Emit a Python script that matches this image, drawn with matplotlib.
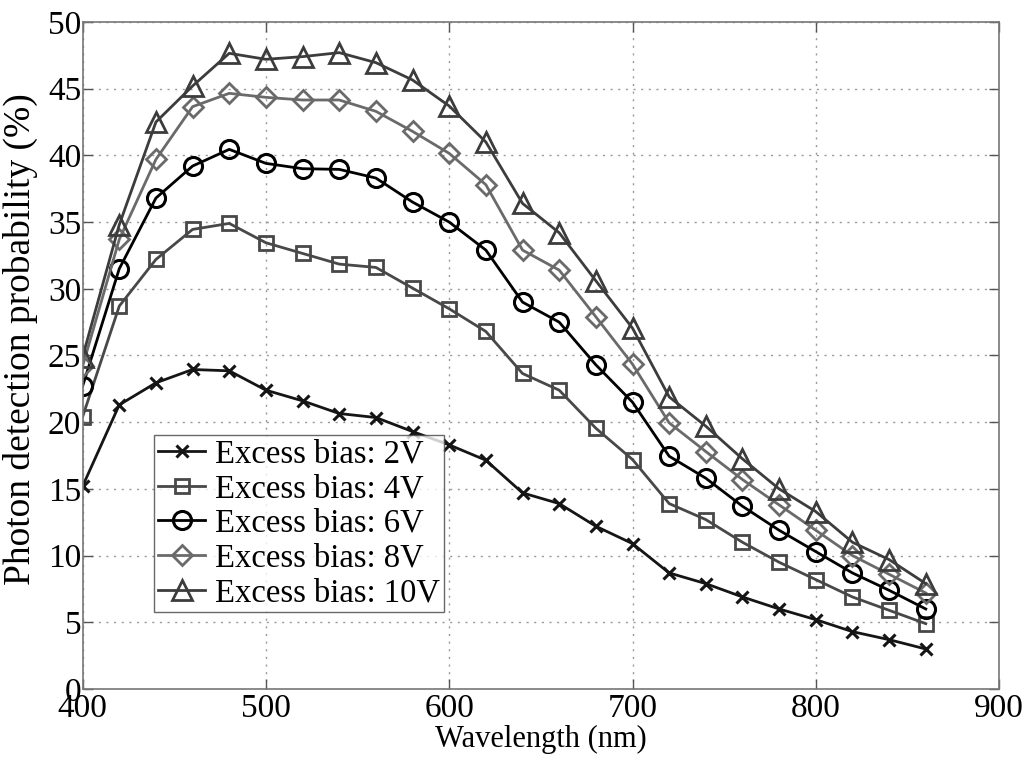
import matplotlib
matplotlib.use("Agg")
import matplotlib.pyplot as plt

wavelength = list(range(400, 861, 20))

pdp_2v = [15.2, 21.3, 22.95, 23.95, 23.85, 22.4, 21.6, 20.65, 20.35, 19.3, 18.3, 17.15,
          14.7, 13.9, 12.2, 10.9, 8.7, 7.9, 6.9, 6.0, 5.2, 4.3, 3.7, 3.0]
pdp_4v = [20.4, 28.7, 32.2, 34.45, 34.9, 33.45, 32.65, 31.85, 31.6, 30.05, 28.5, 26.8,
          23.65, 22.4, 19.55, 17.2, 13.9, 12.7, 11.0, 9.5, 8.2, 6.9, 5.9, 4.9]
pdp_6v = [22.7, 31.5, 36.8, 39.2, 40.45, 39.4, 39.0, 38.95, 38.3, 36.5, 35.0, 32.9,
          29.0, 27.5, 24.3, 21.5, 17.45, 15.8, 13.7, 11.9, 10.3, 8.7, 7.4, 6.0]
pdp_8v = [24.2, 33.7, 39.7, 43.65, 44.65, 44.35, 44.15, 44.15, 43.3, 41.8, 40.15, 37.8,
          32.9, 31.4, 27.9, 24.35, 19.95, 17.8, 15.7, 13.8, 11.9, 10.0, 8.6, 7.2]
pdp_10v = [24.9, 34.8, 42.5, 45.2, 47.65, 47.2, 47.4, 47.7, 46.95, 45.65, 43.7, 41.0,
           36.4, 34.2, 30.6, 27.05, 21.9, 19.7, 17.25, 15.0, 13.3, 11.0, 9.7, 7.9]

labels = ["Excess bias: 2V", "Excess bias: 4V", "Excess bias: 6V",
          "Excess bias: 8V", "Excess bias: 10V"]

x_ticks = [400, 500, 600, 700, 800, 900]
y_ticks = [0, 5, 10, 15, 20, 25, 30, 35, 40, 45, 50]

plt.rcParams["font.family"] = ["Liberation Serif", "DejaVu Serif"]

fig = plt.figure(figsize=(10.30, 7.57), dpi=100)
ax = fig.add_axes([0.0802, 0.0898, 0.8898, 0.8812])

styles = [
    dict(color="#151515", marker="x", ms=9, mew=2.2),
    dict(color="#484848", marker="s", ms=10, mew=2.0, mfc="none"),
    dict(color="#000000", marker="o", ms=13, mew=2.2, mfc="none"),
    dict(color="#6a6a6a", marker="D", ms=10, mew=2.0, mfc="none"),
    dict(color="#3c3c3c", marker="^", ms=14, mew=2.0, mfc="none"),
]
series = [pdp_2v, pdp_4v, pdp_6v, pdp_8v, pdp_10v]

for values, label, st in zip(series, labels, styles):
    ax.plot(wavelength, values, lw=2.0, label=label, **st)

ax.set_xlim(400, 900)
ax.set_ylim(0, 50)
ax.set_xticks(x_ticks)
ax.set_yticks(y_ticks)
ax.tick_params(direction="in", length=7, width=1, colors="#555555",
               labelcolor="black", labelsize=24, top=True, right=True)
ax.tick_params(axis="x", pad=3)
ax.tick_params(axis="y", pad=1)
for s in ax.spines.values():
    s.set_color("#777777")
    s.set_linewidth(1.2)

ax.grid(True, linestyle=(0, (1.5, 4)), color="#999999", lw=1.0)

ax.set_xlabel("Wavelength (nm)", fontsize=22, labelpad=1)
ax.set_ylabel("Photon detection probability (%)", fontsize=27)
ax.yaxis.set_label_coords(-0.049, 0.525)

leg = ax.legend(loc="lower left", bbox_to_anchor=(0.078, 0.115), fontsize=23.5,
                frameon=True, fancybox=False, handlelength=1.45, handletextpad=0.3,
                borderpad=0.12, labelspacing=0.13, borderaxespad=0)
leg.get_frame().set_edgecolor("#444444")
leg.get_frame().set_linewidth(1.0)

fig.savefig("out.png", dpi=100)
